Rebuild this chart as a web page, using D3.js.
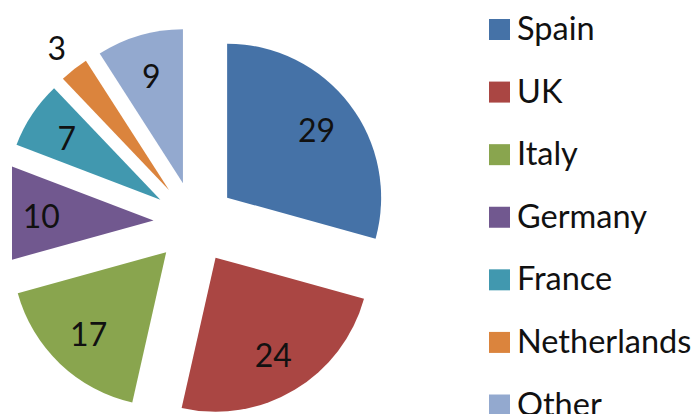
<!DOCTYPE html>
<html>
<head>
<meta charset="utf-8">
<script src="https://cdn.jsdelivr.net/npm/d3@7"></script>
<style>
  body { margin: 0; background: #fff; }
  text { font-family: Lato, "Open Sans", sans-serif; fill: #111; }
</style>
</head>
<body>
<div id="chart"></div>
<script>
// data
const countries = ['Spain', 'UK', 'Italy', 'Germany', 'France', 'Netherlands', 'Other']
const values = [29, 24, 17, 10, 7, 3, 9]
const colors = ['#4572A7', '#AA4643', '#89A54E', '#71588F', '#4198AF', '#DB843D', '#93A9CF']

const width = 697
const height = 414

const cx = 194.5
const cy = 222.5
const radius = 154
const explode = 41

const svg = d3.select('#chart')
  .append('svg')
  .attr('width', width)
  .attr('height', height)

svg.append('clipPath')
  .attr('id', 'plot-clip')
  .append('rect')
  .attr('x', 12)
  .attr('y', 0)
  .attr('width', width - 12)
  .attr('height', height)

const data = countries.map((c, i) => ({name: c, value: values[i], color: colors[i]}))

const pie = d3.pie()
  .sort(null)
  .value(d => d.value)
  .startAngle(0)
  .endAngle(2 * Math.PI)

const arc = d3.arc()
  .innerRadius(0)
  .outerRadius(radius)

const arcs = pie(data)

const shift = (d, dist) => {
  const a = (d.startAngle + d.endAngle) / 2
  return [Math.sin(a) * dist, -Math.cos(a) * dist]
}

const pieGroup = svg.append('g')
  .attr('clip-path', 'url(#plot-clip)')
  .append('g')
  .attr('transform', `translate(${cx},${cy})`)

pieGroup.selectAll('path')
  .data(arcs)
  .enter()
  .append('path')
  .attr('d', arc)
  .attr('fill', d => d.data.color)
  .attr('transform', d => `translate(${shift(d, explode)})`)

// labels: inside for normal slices, outside for the tiny one
const labelGroup = svg.append('g')
  .attr('transform', `translate(${cx},${cy})`)

labelGroup.selectAll('text')
  .data(arcs)
  .enter()
  .append('text')
  .attr('text-anchor', 'middle')
  .attr('dominant-baseline', 'central')
  .style('font-size', '32px')
  .attr('transform', d => {
    const frac = d.value < 5 ? 1.18 : 0.73
    const p = shift(d, explode + radius * frac)
    return `translate(${p})`
  })
  .text(d => d.value)

// legend
const legend = svg.append('g')
  .attr('transform', 'translate(489,0)')

const rowY = d3.scalePoint()
  .domain(countries)
  .range([29.5, 405])

const rows = legend.selectAll('g')
  .data(data)
  .enter()
  .append('g')
  .attr('transform', d => `translate(0,${rowY(d.name)})`)

rows.append('rect')
  .attr('x', 0)
  .attr('y', -10.5)
  .attr('width', 21)
  .attr('height', 21)
  .attr('fill', d => d.color)

rows.append('text')
  .attr('x', 28)
  .attr('y', 10.5)
  .style('font-size', '32.5px')
  .text(d => d.name)
</script>
</body>
</html>
